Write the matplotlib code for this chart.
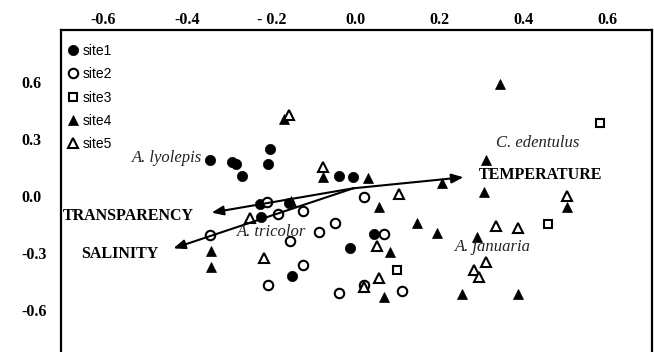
import matplotlib
matplotlib.use("Agg")
import matplotlib.pyplot as plt

# ---- data ----
site1_x = [-0.346, -0.294, -0.284, -0.270, -0.203, -0.208, -0.227, -0.158, -0.225, -0.039, -0.006, 0.044, -0.013, -0.150]
site1_y = [0.192, 0.183, 0.169, 0.108, 0.248, 0.169, -0.041, -0.034, -0.109, 0.109, 0.101, -0.199, -0.269, -0.416]

site2_x = [-0.210, -0.183, -0.124, -0.346, -0.156, -0.049, -0.087, 0.020, 0.068, -0.124, -0.208, 0.020, -0.039, 0.110]
site2_y = [-0.029, -0.094, -0.074, -0.203, -0.234, -0.141, -0.188, -0.001, -0.199, -0.359, -0.464, -0.466, -0.509, -0.496]

site3_x = [0.098, 0.459, 0.583]
site3_y = [-0.387, -0.145, 0.385]

site4_x = [-0.170, -0.076, 0.029, 0.205, 0.057, 0.146, 0.195, 0.082, 0.068, 0.253, 0.386, 0.290, 0.306, 0.311, 0.343, 0.503, -0.344, -0.344, -0.153]
site4_y = [0.408, 0.104, 0.096, 0.069, -0.055, -0.139, -0.191, -0.294, -0.531, -0.515, -0.515, -0.212, 0.025, 0.192, 0.592, -0.054, -0.285, -0.369, -0.024]

site5_x = [-0.158, -0.076, 0.104, -0.251, -0.217, 0.051, 0.057, 0.020, 0.334, 0.387, 0.503, 0.311, 0.283, 0.295]
site5_y = [0.429, 0.157, 0.012, -0.112, -0.325, -0.259, -0.431, -0.476, -0.154, -0.167, 0.005, -0.347, -0.387, -0.424]

site_labels = ["site1", "site2", "site3", "site4", "site5"]

# environmental vectors
vec_origin = (-0.005, 0.043)
vec_names = ["TEMPERATURE", "TRANSPARENCY", "SALINITY"]
vec_x = [0.257, -0.342, -0.433]
vec_y = [0.101, -0.085, -0.273]

species_names = ["A. lyolepis", "A. tricolor", "C. edentulus", "A. januaria"]

x_ticks = [-0.6, -0.4, -0.2, 0.0, 0.2, 0.4, 0.6]
x_tick_labels = ["-0.6", "-0.4", "- 0.2", "0.0", "0.2", "0.4", "0.6"]
y_ticks = [-0.6, -0.3, 0.0, 0.3, 0.6]
y_tick_labels = ["-0.6", "-0.3", "0.0", "0.3", "0.6"]

# ---- figure ----
W, H = 654, 352
fig = plt.figure(figsize=(W / 100, H / 100), dpi=100)
ax = fig.add_axes([61 / W, 1 - 367.5 / H, (651.7 - 61) / W, (367.5 - 30) / H])
ax.set_xlim(-0.7003, 0.7048)
ax.set_ylim(-0.9, 0.876)

serif = "Liberation Serif"
sans = "Liberation Sans"

ms = 7.4
ax.plot(site1_x, site1_y, "o", ms=ms, mfc="black", mec="black", mew=0.5,
        label=site_labels[0], zorder=3)
ax.plot(site2_x, site2_y, "o", ms=ms - 0.6, mfc="white", mec="black", mew=1.5,
        label=site_labels[1], zorder=4)
ax.plot(site3_x, site3_y, "s", ms=ms - 1.4, mfc="white", mec="black", mew=1.5,
        label=site_labels[2], zorder=4)
ax.plot(site4_x, site4_y, "^", ms=ms, mfc="black", mec="black", mew=0.5,
        label=site_labels[3], zorder=5)
ax.plot(site5_x, site5_y, "^", ms=ms - 0.6, mfc="white", mec="black", mew=1.5,
        label=site_labels[4], zorder=6)

# arrows
for name, vx, vy in zip(vec_names, vec_x, vec_y):
    ax.annotate("", xy=(vx, vy), xytext=vec_origin,
                arrowprops=dict(arrowstyle="-|>,head_length=0.7,head_width=0.28",
                                lw=1.5, color="black", shrinkA=0, shrinkB=0,
                                mutation_scale=10),
                zorder=7)

# vector labels
vec_label_pos = [(0.294, 0.113), (-0.695, -0.105), (-0.653, -0.303)]
for name, (tx, ty) in zip(vec_names, vec_label_pos):
    ax.text(tx, ty, name, ha="left", va="center", fontsize=11.5,
            fontweight="bold", family=serif, color="black", zorder=8)

# species labels
sp_pos = [(-0.365, 0.203, "right"), (-0.282, -0.187, "left"),
          (0.334, 0.280, "left"), (0.237, -0.268, "left")]
for name, (tx, ty, ha) in zip(species_names, sp_pos):
    ax.text(tx, ty, name, ha=ha, va="center", fontsize=12, style="italic",
            family=serif, color="#222222", zorder=8)

# axes styling
for side in ["top", "left", "right", "bottom"]:
    ax.spines[side].set_linewidth(1.6)
    ax.spines[side].set_color("black")

ax.xaxis.tick_top()
ax.set_xticks(x_ticks)
ax.set_xticklabels(x_tick_labels, fontsize=11.5, fontweight="bold", family=serif)
ax.set_yticks(y_ticks)
ax.set_yticklabels(y_tick_labels, fontsize=11.5, fontweight="bold", family=serif)
ax.tick_params(axis="x", length=0, pad=1.5)
ax.tick_params(axis="y", length=0, pad=28.8)
for lab in ax.get_yticklabels():
    lab.set_horizontalalignment("left")

leg = ax.legend(loc="upper left", bbox_to_anchor=(0.009, 0.958), frameon=False,
                prop={"family": sans, "size": 10}, handlelength=1.0,
                handletextpad=0.2, borderpad=0, borderaxespad=0,
                labelspacing=0.66, numpoints=1)

fig.savefig("out.png", dpi=100)
